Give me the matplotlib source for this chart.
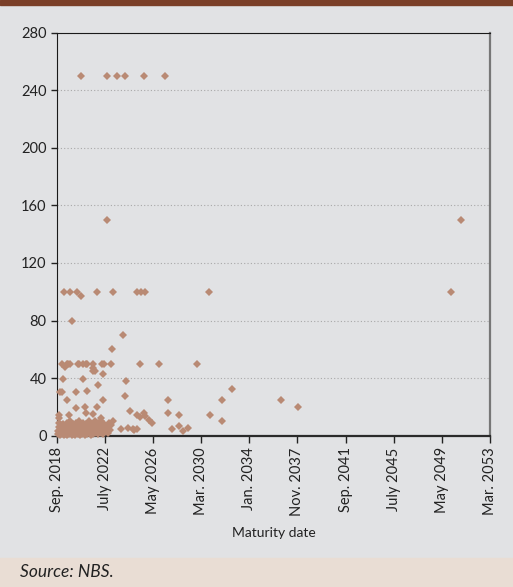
import matplotlib.pyplot as plt

plt.rcParams['font.family'] = ['Liberation Sans Narrow', 'Lato', 'DejaVu Sans']

# maturity (decimal years) and amounts
cluster_dates = [2018.75, 2018.78, 2018.80, 2018.83, 2018.85, 2018.88, 2018.92, 2018.95, 2019.00, 2019.03,
                 2019.06, 2019.10, 2019.13, 2019.17, 2019.20, 2019.25, 2019.28, 2019.32, 2019.36, 2019.40,
                 2019.44, 2019.48, 2019.52, 2019.55, 2019.60, 2019.64, 2019.68, 2019.72, 2019.76, 2019.80,
                 2019.84, 2019.88, 2019.92, 2019.96, 2020.00, 2020.05, 2020.10, 2020.14, 2020.18, 2020.22,
                 2020.27, 2020.31, 2020.35, 2020.40, 2020.44, 2020.48, 2020.53, 2020.57, 2020.62, 2020.66,
                 2020.70, 2020.75, 2020.80, 2020.85, 2020.90, 2020.95, 2021.00, 2021.05, 2021.10, 2021.15,
                 2021.20, 2021.25, 2021.30, 2021.36, 2021.42, 2021.48, 2021.54, 2021.60, 2021.66, 2021.72,
                 2021.78, 2021.84, 2021.90, 2021.96, 2022.02, 2022.08, 2022.14, 2022.20, 2022.28, 2022.36,
                 2022.44, 2022.52, 2022.60, 2022.70, 2022.80, 2022.90, 2023.00, 2023.15]
cluster_amounts = [1, 3, 6, 9, 12, 2, 4, 0.5, 7, 2,
                   5, 1, 3, 8, 0.5, 4, 2, 6, 1, 3,
                   9, 0.5, 5, 2, 7, 1, 4, 10, 2, 6,
                   0.5, 3, 8, 1, 5, 2, 7, 0.5, 4, 9,
                   2, 6, 1, 3, 10, 5, 0.5, 2, 7, 4,
                   1, 9, 3, 6, 0.5, 2, 8, 4, 1, 5,
                   10, 2, 6, 0.5, 3, 8, 1, 5, 10, 2,
                   6, 3, 9, 1, 4, 7, 2, 10, 5, 1,
                   8, 3, 6, 2, 9, 4, 7, 10]

mid_dates = [2018.80, 2019.65, 2020.95, 2021.56, 2022.20, 2024.48, 2025.02, 2025.62, 2025.68, 2025.28,
             2026.21, 2026.00, 2023.74, 2024.35, 2024.75, 2025.02, 2024.83, 2027.49, 2027.49, 2027.81,
             2028.39, 2028.39, 2028.73, 2029.08, 2030.86, 2031.79, 2031.79, 2032.59, 2036.50, 2037.85,
             2022.36, 2019.49, 2020.16, 2020.90, 2021.88, 2018.92, 2019.04, 2020.16, 2021.08, 2024.05,
             2021.96, 2024.17, 2019.17, 2020.71, 2022.36, 2021.51, 2021.70, 2019.30, 2021.56]
mid_amounts = [14, 14, 16, 15, 12, 17, 14.6, 16, 13.6, 13,
               8.5, 11, 4.3, 5.3, 4.5, 4.5, 4, 16, 24.7, 4.3,
               6.6, 14.3, 3.3, 5, 14.3, 10, 24.7, 32.6, 24.7, 19.6,
               24.7, 24.7, 19, 20, 20, 30, 30, 30, 31, 27.5,
               35.2, 37.7, 39.3, 39.3, 43, 45, 45, 47.7, 46.8]

high_dates = [2019.04, 2019.44, 2019.57, 2019.70, 2020.36, 2020.44, 2020.76, 2020.98, 2021.08, 2021.56,
              2022.29, 2022.45, 2022.95, 2025.28, 2026.80, 2029.86,
              2023.03, 2023.95, 2019.84,
              2019.22, 2019.70, 2020.26, 2020.60, 2021.88, 2023.15, 2025.04, 2025.39, 2025.66, 2030.78,
              2050.04, 2022.68, 2050.84,
              2020.60, 2022.68, 2023.47, 2024.06, 2025.62, 2027.25]
high_amounts = [50, 50, 50, 50, 50, 50, 50, 50, 50, 50,
                50, 50, 50, 50, 50, 50,
                60, 70, 80,
                100, 100, 100, 97, 100, 100, 100, 100, 100, 100,
                100, 150, 150,
                250, 250, 250, 250, 250, 250]

tick_years = [2018 + 8 / 12, 2022.5, 2026 + 4 / 12, 2030 + 2 / 12, 2034.0,
              2037 + 10 / 12, 2041 + 8 / 12, 2045.5, 2049 + 4 / 12, 2053 + 2 / 12]
tick_labels = ['Sep. 2018', 'July 2022', 'May 2026', 'Mar. 2030', 'Jan. 2034',
               'Nov. 2037', 'Sep. 2041', 'July 2045', 'May 2049', 'Mar. 2053']

bg = '#e1e2e4'
fig = plt.figure(figsize=(5.13, 5.87), dpi=100, facecolor=bg)
ax = fig.add_axes([0.111, 0.258, 0.844, 0.686], facecolor=bg)

dates = cluster_dates + mid_dates + high_dates
amounts = cluster_amounts + mid_amounts + high_amounts
ax.plot(dates, amounts, 'D', color='#b98a74', markersize=4.5, markeredgewidth=0, clip_on=False, zorder=3)

ax.set_xlim(tick_years[0], tick_years[-1])
ax.set_ylim(0, 280)
ax.set_yticks(range(0, 281, 40))
ax.set_xticks(tick_years)
ax.set_xticklabels(tick_labels, rotation=90)
ax.tick_params(axis='both', labelsize=10.5, colors='#222222', length=4, width=1)
ax.tick_params(axis='x', length=5)

ax.yaxis.grid(True, linestyle=(0, (1, 2)), color='#a8a8a8', linewidth=0.8)
ax.set_axisbelow(True)
ax.spines['left'].set_color('#1a1a1a')
ax.spines['bottom'].set_color('#2a2a2a')
ax.spines['bottom'].set_linewidth(1.6)
ax.spines['top'].set_color('#1a1a1a')
ax.spines['right'].set_color('#777777')
ax.spines['right'].set_linewidth(1.6)

ax.set_xlabel('Maturity date', fontsize=10, color='#222222', labelpad=8)

# header strip and source band
fig.patches.append(plt.Rectangle((0, 1 - 5 / 587), 1, 5 / 587, transform=fig.transFigure,
                                 color='#7a3f28', zorder=0))
fig.patches.append(plt.Rectangle((0, 0), 1, 29 / 587, transform=fig.transFigure,
                                 color='#e9ddd4', zorder=0))
fig.text(20 / 513, 1 - 572 / 587, 'Source: NBS.', fontsize=12.5, style='italic',
         color='#222222', va='center', ha='left')

fig.savefig('out.png', dpi=100, facecolor=bg)
